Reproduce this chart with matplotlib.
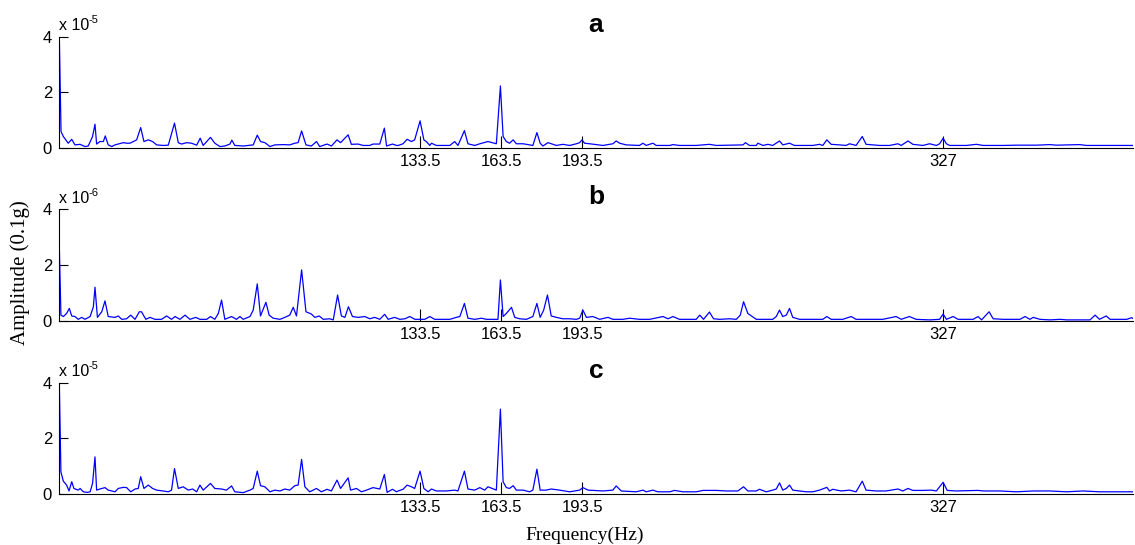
import matplotlib
matplotlib.use('Agg')
import matplotlib.pyplot as plt

# spectra (freq in Hz, amplitude in units of the panel's 10^n)
freq_a = [0.1, 0.74, 1.6, 3.4, 4.7, 5.9, 7.8, 9.6, 10.8, 12.4, 13.3, 13.9, 15.1, 16.4, 17.1, 18.2, 19.5, 20.7,
          22.3, 23.8, 25.0, 26.2, 27.5, 28.7, 30.2, 31.4, 33.0, 34.6, 36.1, 38.5, 40.4, 42.7, 44.1, 45.3, 47.2,
          49.0, 50.9, 52.2, 53.3, 56.0, 57.6, 59.5, 61.3, 63.2, 63.9, 65.0, 68.1, 71.8, 73.3, 74.5, 76.1, 78.0,
          79.8, 82.9, 85.3, 87.2, 88.4, 89.7, 91.3, 93.3, 95.2, 96.4, 99.1, 100.7, 102.8, 104.1, 105.7, 106.9,
          108.1, 110.6, 112.4, 114.9, 116.1, 118.6, 120.3, 121.1, 123.3, 124.8,
          125.4, 127.2, 128.7, 130.3, 131.5, 133.5, 134.9, 135.8, 137.1, 137.7, 139.5, 144.5, 146.3, 147.5,
          149.9, 151.2, 153.7, 155.6, 158.6, 161.7, 163.2, 164.2, 165.4, 166.6, 167.9, 169.1, 171.6, 175.2,
          176.7, 177.9, 178.9, 180.8, 182.0, 183.9, 186.3, 188.8, 191.3, 192.5, 193.4, 194.3, 196.2, 201.1,
          204.8, 206.0, 207.3, 209.7, 214.6, 215.9, 217.1, 219.6, 220.8, 225.8, 227.0, 229.4, 235.6, 240.5,
          243.0, 252.9, 253.8, 255.3,
          257.8, 258.4, 260.3, 262.1, 263.9, 266.4, 267.6, 270.1, 271.9, 278.7, 281.2, 282.4, 283.9, 285.5,
          288.6, 291.0, 292.3, 294.7, 297.0, 298.4, 300.9, 303.4, 307.1, 310.2, 311.4, 313.9, 315.7, 319.4,
          321.9, 324.4, 325.6, 326.9, 328.1, 329.3, 335.5, 339.2, 341.7, 349.1, 354.0, 361.4, 366.3, 368.8,
          377.4, 379.9, 397.1]
amp_a = [4.0, 0.6, 0.42, 0.18, 0.32, 0.12, 0.14, 0.06, 0.08, 0.42, 0.86, 0.15, 0.24, 0.24, 0.44, 0.12, 0.06, 0.12,
         0.16, 0.2, 0.18, 0.18, 0.24, 0.3, 0.74, 0.24, 0.3, 0.24, 0.12, 0.1, 0.11, 0.9, 0.2, 0.15, 0.2,
         0.18, 0.11, 0.36, 0.1, 0.39, 0.18, 0.06, 0.08, 0.15, 0.29, 0.1, 0.08, 0.12, 0.47, 0.24, 0.2, 0.06,
         0.12, 0.13, 0.12, 0.18, 0.2, 0.62, 0.12, 0.08, 0.24, 0.06, 0.15, 0.08, 0.3, 0.2, 0.36, 0.48,
         0.14, 0.15, 0.1, 0.1, 0.15, 0.15, 0.72, 0.08, 0.15, 0.1,
         0.1, 0.16, 0.32, 0.24, 0.3, 0.98, 0.3, 0.24, 0.1, 0.18, 0.1, 0.1, 0.24, 0.1,
         0.63, 0.16, 0.1, 0.16, 0.24, 0.16, 2.23, 0.42, 0.24, 0.18, 0.3, 0.16, 0.16, 0.1,
         0.56, 0.18, 0.08, 0.2, 0.16, 0.1, 0.14, 0.1, 0.16, 0.2, 0.3, 0.18, 0.16, 0.1,
         0.16, 0.26, 0.18, 0.12, 0.1, 0.18, 0.1, 0.18, 0.1, 0.1, 0.13, 0.1, 0.1, 0.14,
         0.1, 0.12, 0.2, 0.1,
         0.1, 0.18, 0.1, 0.14, 0.1, 0.26, 0.12, 0.18, 0.1, 0.1, 0.14, 0.1, 0.3, 0.14,
         0.12, 0.1, 0.16, 0.1, 0.42, 0.14, 0.12, 0.1, 0.1, 0.16, 0.1, 0.26, 0.14, 0.1,
         0.16, 0.1, 0.16, 0.36, 0.16, 0.1, 0.1, 0.14, 0.1, 0.1, 0.11, 0.11, 0.13, 0.11,
         0.13, 0.1, 0.1]

freq_b = [0.1, 0.7, 1.6, 2.8, 3.8, 4.7, 5.9, 7.1, 8.4, 9.6, 11.5, 12.7, 13.3, 14.2, 15.8, 17.0, 18.2, 20.7, 21.9,
          23.2, 25.0, 26.5, 28.1, 29.7, 30.5, 32.1, 33.6, 35.5, 37.9, 39.8, 41.6, 42.9, 44.7, 46.6, 48.4, 50.6,
          52.1, 54.6, 56.0, 57.6, 58.9, 60.1, 61.3, 63.8, 65.6, 66.9, 68.1, 70.6, 71.8, 73.3, 74.5, 76.5, 77.7,
          79.2, 81.7, 83.5, 85.3, 86.6, 87.8, 89.7, 91.3, 93.3, 94.6, 96.2, 97.7, 100.1, 101.4, 103.0, 104.4,
          105.7, 107.0, 108.5, 110.6, 113.1, 114.9, 116.7, 118.6, 120.4, 121.7, 124.1,
          126.0, 127.9, 129.7, 131.6, 133.5, 135.2, 137.1, 138.9, 142.0, 144.5, 146.9, 148.2, 149.9, 151.2,
          153.7, 156.2, 158.0, 160.5, 162.3, 163.2, 164.2, 165.4, 167.3, 168.5, 170.3, 172.8, 175.2, 176.7,
          177.9, 179.2, 180.6, 182.0, 183.9, 186.3, 188.8, 191.3, 192.5, 193.7, 195.0, 197.4, 199.9, 203.0,
          204.8, 208.5, 211.0, 214.6, 218.4, 223.3, 225.2, 227.0, 229.4, 233.1, 235.6, 236.9, 238.3, 240.5,
          242.0, 244.2, 247.9, 250.4, 251.9, 253.1, 254.7,
          257.8, 260.3, 263.9, 265.2, 266.4, 267.6, 268.9, 270.1, 271.3, 273.8, 277.5, 280.0, 282.4, 283.9,
          285.5, 289.8, 292.9, 294.7, 299.7, 304.6, 309.5, 311.4, 314.4, 316.9, 321.9, 325.6, 326.9, 328.1,
          330.6, 332.4, 338.0, 339.8, 341.1, 343.9, 345.4, 349.1, 352.8, 355.3, 357.2, 359.0, 360.2, 362.7,
          366.4, 370.1, 372.6, 381.2, 383.1, 384.7, 387.2, 388.6, 391.1, 394.8, 396.6, 397.9]
amp_b = [2.69, 0.21, 0.16, 0.27, 0.45, 0.18, 0.16, 0.06, 0.13, 0.06, 0.16, 0.51, 1.21, 0.13, 0.33, 0.72, 0.16, 0.13, 0.18,
         0.06, 0.08, 0.21, 0.06, 0.33, 0.33, 0.06, 0.13, 0.06, 0.06, 0.18, 0.06, 0.16, 0.06, 0.21, 0.06, 0.13,
         0.06, 0.06, 0.16, 0.06, 0.27, 0.75, 0.06, 0.16, 0.06, 0.16, 0.06, 0.16, 0.39, 1.33, 0.18, 0.67, 0.21,
         0.1, 0.06, 0.13, 0.21, 0.49, 0.18, 1.83, 0.33, 0.25, 0.13, 0.18, 0.06, 0.08, 0.04, 0.93, 0.18,
         0.13, 0.51, 0.16, 0.13, 0.16, 0.08, 0.13, 0.06, 0.24, 0.06, 0.13,
         0.06, 0.08, 0.16, 0.06, 0.06, 0.06, 0.16, 0.06, 0.06, 0.06, 0.13, 0.16, 0.63, 0.1,
         0.06, 0.1, 0.06, 0.06, 0.06, 1.47, 0.16, 0.27, 0.49, 0.13, 0.08, 0.06, 0.16, 0.63,
         0.13, 0.39, 0.93, 0.18, 0.13, 0.08, 0.08, 0.06, 0.1, 0.39, 0.13, 0.16, 0.06, 0.13,
         0.06, 0.06, 0.1, 0.06, 0.06, 0.16, 0.08, 0.16, 0.06, 0.06, 0.06, 0.21, 0.06, 0.32,
         0.08, 0.06, 0.08, 0.06, 0.21, 0.69, 0.27,
         0.06, 0.06, 0.06, 0.16, 0.39, 0.16, 0.21, 0.45, 0.13, 0.06, 0.06, 0.06, 0.06, 0.16,
         0.06, 0.06, 0.16, 0.06, 0.06, 0.06, 0.16, 0.06, 0.16, 0.06, 0.04, 0.06, 0.25, 0.06,
         0.16, 0.06, 0.06, 0.16, 0.04, 0.33, 0.08, 0.06, 0.06, 0.06, 0.16, 0.06, 0.13, 0.06,
         0.04, 0.06, 0.04, 0.04, 0.21, 0.06, 0.18, 0.06, 0.06, 0.06, 0.12, 0.04]

freq_c = [0.1, 0.7, 1.6, 2.8, 3.7, 4.7, 5.5, 7.1, 7.8, 9.0, 10.5, 11.5, 12.4, 13.3, 13.9, 15.1, 17.0, 18.2, 19.5,
          20.7, 21.9, 23.8, 25.0, 26.5, 28.1, 29.3, 30.2, 31.4, 33.0, 34.6, 36.1, 38.5, 40.4, 41.6, 42.7, 44.1,
          45.9, 47.8, 49.4, 50.9, 52.1, 53.3, 56.0, 57.6, 60.1, 61.9, 63.8, 65.0, 68.1, 70.6, 71.8, 73.3, 74.5,
          76.1, 78.0, 79.8, 81.7, 83.5, 85.3, 87.2, 88.4, 89.7, 90.9, 92.7, 95.2, 97.0, 99.1, 100.7, 102.8,
          104.1, 105.0, 106.9, 107.8, 110.0, 111.8, 113.7, 116.1, 118.6, 120.3, 121.3, 123.3, 124.8,
          125.4, 127.2, 128.7, 130.3, 131.5, 133.5, 134.9, 136.5, 137.7, 139.5, 143.2, 146.3, 147.5, 149.9,
          151.2, 153.7, 155.6, 157.4, 158.6, 161.7, 163.2, 164.2, 165.4, 166.6, 167.9, 169.1, 171.6, 174.0,
          175.2, 176.7, 177.9, 180.1, 182.0, 185.1, 188.8, 192.5, 193.7, 195.6, 201.1, 204.8, 206.0, 207.9,
          213.4, 215.9, 217.1, 219.6, 221.4, 225.8, 227.6, 230.7, 235.6, 238.1, 243.0, 246.7, 251.0, 253.1,
          254.7,
          257.8, 259.0, 261.5, 263.9, 265.2, 266.4, 267.6, 268.9, 270.1, 271.3, 273.8, 276.3, 278.7, 281.2,
          283.9, 284.9, 286.1, 289.2, 292.3, 294.7, 297.0, 298.4, 302.1, 305.8, 310.2, 312.0, 313.9, 315.7,
          319.4, 322.5, 324.4, 326.9, 328.4, 331.8, 339.8, 341.7, 347.9, 354.0, 360.2, 366.3, 372.5, 378.6,
          384.8, 391.0, 397.1]
amp_c = [4.0, 0.8, 0.47, 0.33, 0.12, 0.45, 0.21, 0.15, 0.21, 0.09, 0.07, 0.09, 0.39, 1.34, 0.15, 0.19, 0.24, 0.15, 0.12,
         0.09, 0.21, 0.25, 0.24, 0.09, 0.19, 0.21, 0.63, 0.21, 0.33, 0.21, 0.15, 0.12, 0.09, 0.15, 0.92, 0.21,
         0.27, 0.15, 0.19, 0.09, 0.33, 0.15, 0.39, 0.21, 0.19, 0.15, 0.3, 0.09, 0.06, 0.15, 0.21, 0.83, 0.31,
         0.27, 0.09, 0.15, 0.12, 0.19, 0.15, 0.31, 0.33, 1.25, 0.27, 0.09, 0.21, 0.09, 0.18, 0.12, 0.51,
         0.21, 0.33, 0.59, 0.15, 0.21, 0.09, 0.15, 0.24, 0.19, 0.71, 0.07, 0.18, 0.09,
         0.12, 0.18, 0.33, 0.27, 0.21, 0.83, 0.21, 0.09, 0.19, 0.12, 0.12, 0.15, 0.12, 0.83,
         0.19, 0.15, 0.24, 0.15, 0.27, 0.15, 3.05, 0.45, 0.24, 0.21, 0.31, 0.15, 0.15, 0.09,
         0.15, 0.9, 0.15, 0.15, 0.19, 0.15, 0.09, 0.15, 0.24, 0.15, 0.12, 0.15, 0.3, 0.12,
         0.09, 0.15, 0.09, 0.15, 0.09, 0.09, 0.14, 0.09, 0.09, 0.14, 0.14, 0.12, 0.12, 0.27,
         0.12,
         0.12, 0.18, 0.09, 0.15, 0.19, 0.41, 0.15, 0.21, 0.33, 0.15, 0.12, 0.09, 0.09, 0.15,
         0.25, 0.12, 0.18, 0.12, 0.15, 0.09, 0.47, 0.15, 0.12, 0.12, 0.19, 0.12, 0.21, 0.14,
         0.14, 0.15, 0.12, 0.43, 0.14, 0.12, 0.14, 0.12, 0.12, 0.09, 0.12, 0.12, 0.09, 0.12,
         0.09, 0.09, 0.09]

panels = [('a', freq_a, amp_a, '-5'), ('b', freq_b, amp_b, '-6'), ('c', freq_c, amp_c, '-5')]
xticks = [133.5, 163.5, 193.5, 327]
xtick_labels = ['133.5', '163.5', '193.5', '327']
yticks = [0, 2, 4]

sans = 'Liberation Sans'
serif = 'Liberation Serif'

fig = plt.figure(figsize=(11.35, 5.45), dpi=100)
bottoms = [0.728, 0.411, 0.093]
for (name, f, a, expo), b in zip(panels, bottoms):
    ax = fig.add_axes([0.052, b, 0.946, 0.205])
    ax.plot(f, a, color='#0000ff', lw=0.9)
    ax.set_xlim(0, 397)
    ax.set_ylim(0, 4)
    ax.spines['top'].set_visible(False)
    ax.spines['right'].set_visible(False)
    ax.spines['left'].set_linewidth(0.8)
    ax.spines['bottom'].set_linewidth(0.8)
    ax.set_xticks(xticks)
    ax.set_xticklabels(xtick_labels, fontfamily=sans, fontsize=12)
    ax.set_yticks(yticks)
    ax.set_yticklabels([str(t) for t in yticks], fontfamily=sans, fontsize=12)
    ax.tick_params(axis='x', direction='in', length=8.5, width=0.8, pad=4)
    ax.tick_params(axis='y', direction='in', length=6.5, width=0.8, pad=5)
    ax.set_title(name, fontfamily=sans, fontweight='bold', fontsize=19, pad=1)
    # multiplier label, MATLAB style
    ax.text(0.0, 1.03, 'x 10', transform=ax.transAxes,
            fontfamily=sans, fontsize=11.5, ha='left', va='bottom')
    ax.annotate(expo, xy=(0.0, 1.03), xycoords='axes fraction', xytext=(21.5, 6),
                textcoords='offset points', fontfamily=sans, fontsize=8,
                ha='left', va='bottom')

fig.text(0.018, 0.5, 'Amplitude (0.1g)', rotation=90, ha='center', va='center',
         fontfamily=serif, fontsize=15)
fig.text(0.515, 0.018, 'Frequency(Hz)', ha='center', va='center',
         fontfamily=serif, fontsize=14)

fig.savefig('out.png', dpi=100)
